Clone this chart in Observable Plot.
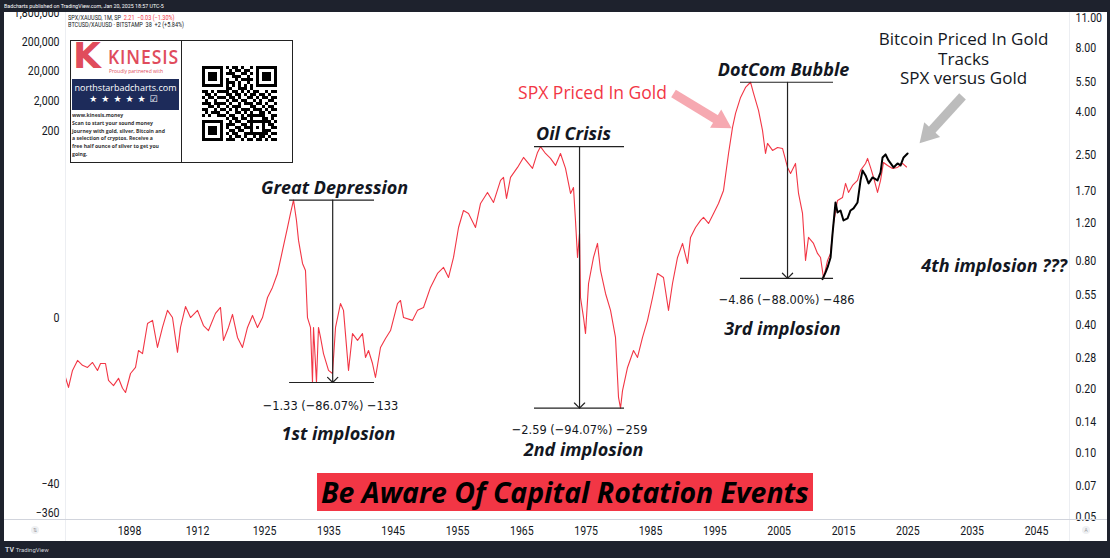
<!DOCTYPE html>
<html><head><meta charset="utf-8">
<script src="https://cdn.jsdelivr.net/npm/d3@7"></script>
<script src="https://cdn.jsdelivr.net/npm/@observablehq/plot@0.6"></script>
<style>
body{margin:0;background:#1e222d;}
#wrap{position:relative;width:1110px;height:558px;overflow:hidden;background:#1e222d;font-family:"Open Sans",sans-serif;}
.abs{position:absolute;}
.sq{display:inline-block;transform:scaleX(0.88);transform-origin:0 50%;white-space:nowrap;}
.kline{white-space:nowrap;}
</style></head><body>
<div id="wrap">
  <div class="abs" style="left:4px;top:0;height:12px;line-height:12px;color:#fff;font-size:6px;font-family:Roboto"><span class="sq">Badcharts published on TradingView.com, Jan 20, 2025 18:57 UTC-5</span></div>
  <div id="chart" class="abs" style="left:4px;top:12px;width:1103px;height:529px;background:#fff"></div>
  <div class="abs" style="left:65px;top:12px;width:1px;height:529px;background:#eceef2"></div>
  <div class="abs" style="left:1069px;top:12px;width:1px;height:529px;background:#eceef2"></div>
  <div class="abs" style="left:4px;top:519px;width:1103px;height:1px;background:#d1d4dc"></div>
  <div class="abs" style="left:31px;top:526px;width:8px;height:8px;border-radius:50%;background:#eef0f3;color:#999;font-size:5px;line-height:8px;text-align:center">⇅</div>
  <div class="abs" style="left:1082px;top:526px;width:8px;height:8px;border-radius:50%;background:#eef0f3;color:#999;font-size:5px;line-height:8px;text-align:center">A</div>

  <div class="abs" style="left:68px;top:15px;font-size:6.3px;line-height:7px;color:#131722;font-family:Roboto">
    <div><span class="sq">SPX/XAUUSD, 1M, SP&nbsp; <span style="color:#f23645">2.21 &nbsp;−0.03 (−1.30%)</span></span></div>
    <div><span class="sq">BTCUSD/XAUUSD · BITSTAMP&nbsp; 38 &nbsp;+2 (+5.84%)</span></div>
  </div>

  <div class="abs" style="left:70px;top:40px;width:223px;height:123px;border:1px solid #222;background:#fff;box-sizing:border-box;">
    <div class="abs" style="left:110px;top:0;width:1px;height:121px;background:#222"></div>
    <div class="abs" style="left:2px;top:-5px;font:bold 36px 'DejaVu Sans';color:#e04c5c;line-height:40px">K</div>
    <div class="abs" style="left:37px;top:6px;font-weight:600;font-size:20px;line-height:20px;letter-spacing:1px;color:#e04c5c"><span class="sq">KINESIS</span></div>
    <div class="abs" style="left:38px;top:27px;font-size:5px;line-height:6px;color:#e04c5c">Proudly partnered with</div>
    <div class="abs" style="left:1px;top:38px;width:107px;height:31px;background:#1d2b5a;color:#fff;text-align:center">
      <div style="font-size:9px;line-height:10px;margin-top:4px;white-space:nowrap">northstarbadcharts.com</div>
      <div style="font-family:'DejaVu Sans';font-size:9px;line-height:12px;letter-spacing:4px;white-space:nowrap">★★★★★☑</div>
    </div>
    <div class="abs" style="left:1px;top:71px;font-weight:700;font-size:5.8px;line-height:7.8px;color:#333">
      <div class="kline"><span class="sq">www.kinesis.money</span></div>
      <div class="kline"><span class="sq">Scan to start your sound money</span></div>
      <div class="kline"><span class="sq">journey with gold, silver, Bitcoin and</span></div>
      <div class="kline"><span class="sq">a selection of cryptos. Receive a</span></div>
      <div class="kline"><span class="sq">free half ounce of silver to get you</span></div>
      <div class="kline"><span class="sq">going.</span></div>
    </div>
    <div id="qr" class="abs" style="left:126px;top:19px;width:84px;height:86px"></div>
  </div>

  <div class="abs" style="left:317px;top:473px;width:496px;height:38px;background:#f23645;overflow:hidden">
    <div style="font-family:'Open Sans';font-weight:700;font-style:italic;font-size:29px;line-height:38px;color:#000;white-space:nowrap;padding-left:4px"><span style="display:inline-block;transform:scaleX(0.98);transform-origin:0 50%">Be Aware Of Capital Rotation Events</span></div>
  </div>

  <div class="abs" style="left:5px;top:545px;font-size:7px;line-height:10px;color:#d1d4dc;font-family:Roboto;white-space:nowrap"><b>TV</b> <span style="font-size:6px">TradingView</span></div>
</div>
<script>
// ---------- tick labels ----------
const xTicks = [1898, 1912, 1925, 1935, 1945, 1955, 1965, 1975, 1985, 1995, 2005, 2015, 2025, 2035, 2045];
const rightTicks = [11, 8, 5.5, 4, 2.5, 1.7, 1.2, 0.8, 0.55, 0.4, 0.28, 0.2, 0.14, 0.1, 0.07, 0.05];
const leftTickValues = [11.6, 8.5, 6.2, 4.49, 3.24, 0.43, 0.0714, 0.0522];
const leftTickLabels = ["1,800,000", "200,000", "20,000", "2,000", "200", "0", "−40", "−360"];

// ---------- series: SPX priced in gold (year, ratio) ----------
const spxGold = [
[1884.0,0.227],[1884.66,0.204],[1885.53,0.245],[1886.63,0.273],[1887.72,0.259],[1888.81,0.253],[1889.91,0.267],[1891.0,0.245],[1891.66,0.264],[1892.75,0.264],[1893.41,0.220],[1894.5,0.208],[1895.6,0.225],[1896.47,0.202],[1897.13,0.193],[1898.21,0.237],
[1899.24,0.253],[1899.85,0.304],[1900.68,0.294],[1901.71,0.407],[1902.74,0.421],[1903.76,0.314],[1904.79,0.390],[1905.82,0.469],[1906.85,0.434],[1907.88,0.298],[1908.5,0.390],[1909.53,0.489],[1910.56,0.434],[1912.0,0.469],
[1913.16,0.398],[1914.13,0.377],[1915.49,0.454],[1916.46,0.484],[1917.04,0.339],[1918.01,0.390],[1918.79,0.449],[1919.76,0.350],[1920.73,0.314],[1921.7,0.390],[1922.67,0.444],[1923.64,0.390],[1924.61,0.434],
[1925.47,0.539],[1926.24,0.601],[1927.02,0.699],[1927.8,0.896],[1928.58,1.149],[1929.04,1.337],[1929.51,1.545],[1929.97,1.240],[1930.29,0.999],[1930.91,0.779],[1931.37,0.722],[1931.68,0.434],[1932.15,0.390],[1932.46,0.215],[1932.62,0.390],[1933.08,0.215],[1933.39,0.390],[1933.71,0.350],[1934.17,0.294],[1934.95,0.245],[1935.57,0.237],[1936.04,0.390],[1936.81,0.505],[1937.28,0.469],[1938.06,0.245],[1938.68,0.365],[1939.46,0.339],[1940.23,0.365],[1940.7,0.282],[1941.17,0.304],[1941.79,0.264],[1942.25,0.227],[1943.03,0.314],[1943.81,0.346],[1944.59,0.377],[1945.67,0.505],
[1946.14,0.522],[1946.61,0.434],[1948.01,0.421],[1948.78,0.469],[1949.72,0.484],[1950.8,0.601],[1951.89,0.699],[1952.83,0.746],[1953.6,0.669],[1954.38,0.831],[1955.16,1.149],[1955.93,1.381],[1956.71,1.337],[1957.8,1.149],[1958.58,1.490],[1959.66,1.678],[1960.6,1.506],[1961.69,1.911],[1962.15,1.974],[1962.62,1.573],[1963.24,1.974],[1964.33,2.199],[1965.26,2.450],[1966.66,2.176],[1967.44,2.586],[1967.9,2.753],[1968.68,2.558],[1969.46,2.424],[1970.24,2.247],[1971.01,2.558],[1971.79,2.176],[1972.57,1.660],[1973.03,1.771],[1973.34,1.240],[1973.66,0.831],[1973.97,1.077],[1974.12,0.539],[1974.59,0.434],[1974.9,0.365],[1975.37,0.627],[1976.14,0.831],[1976.76,0.967],[1977.23,0.722],[1978.01,0.563],[1978.79,0.469],[1979.56,0.350],[1980.03,0.183],[1980.34,0.163],[1980.65,0.197],[1981.43,0.253],[1982.36,0.304],[1982.98,0.282],[1983.76,0.350],[1984.54,0.421],[1985.32,0.539],[1986.09,0.699],[1987.02,0.669],[1987.8,0.469],[1988.42,0.627],[1989.2,0.831],[1989.98,0.967],[1990.75,0.779],[1991.22,1.032],[1992.0,1.149],[1992.78,1.240],
[1993.24,1.281],[1994.02,1.200],[1994.8,1.337],[1995.57,1.490],[1996.35,1.715],[1997.13,2.558],[1997.75,3.389],[1998.22,3.943],[1999.0,4.688],[1999.77,5.223],[2000.55,5.523],[2001.02,4.895],[2001.79,4.073],[2002.41,3.281],[2002.88,2.558],[2003.19,2.851],[2003.97,2.643],[2004.75,2.730],[2005.52,2.700],[2006.3,2.199],[2006.77,2.061],[2007.54,2.296],[2008.01,1.660],[2008.63,1.337],[2009.1,0.805],[2009.56,1.032],[2010.34,0.967],[2010.96,0.868],[2011.43,0.831],[2011.9,0.663],
[2012.52,0.805],[2012.99,0.868],[2013.45,1.200],[2014.07,1.539],[2014.85,1.590],[2015.32,1.850],[2015.78,1.678],[2016.4,1.810],[2017.18,1.911],[2017.65,2.129],[2018.43,2.296],[2018.74,2.424],[2019.2,2.199],[2019.67,1.974],[2020.29,1.678],[2020.76,1.911],[2021.22,2.321],[2021.85,2.247],[2022.62,2.176],[2023.4,2.199],[2024.18,2.296],[2024.8,2.210]
];

// ---------- series: Bitcoin priced in gold (overlay) ----------
const btcGold = [
[2011.74,0.657],[2012.21,0.707],[2012.52,0.746],[2012.99,0.831],[2013.3,1.077],[2013.45,1.200],[2013.76,1.506],[2014.07,1.352],[2014.54,1.381],[2015.0,1.240],[2015.63,1.267],[2016.09,1.381],[2016.56,1.412],[2017.18,1.506],[2017.65,1.911],[2017.96,2.129],[2018.43,2.017],[2018.9,1.850],[2019.52,1.974],[2020.29,1.911],[2020.76,2.083],[2021.07,2.450],[2021.54,2.531],[2022.0,2.372],[2022.78,2.199],[2023.4,2.296],[2023.87,2.247],[2024.34,2.450],[2024.96,2.558]
];

// ---------- annotations ----------
const drawdowns = [
  {start: 1928.9, end: 1942.1, mid: 1935.6, peak: 1.545, trough: 0.215},
  {start: 1966.97, end: 1980.96, mid: 1973.97, peak: 2.753, trough: 0.163},
  {start: 1998.99, end: 2013.45, mid: 2006.3, peak: 5.523, trough: 0.663}
];
const drawdownLabels = [
  {year: 1935.26, value: 0.1678, text: "−1.33 (−86.07%) −133"},
  {year: 1973.97, value: 0.1295, text: "−2.59 (−94.07%) −259"},
  {year: 2006.15, value: 0.528, text: "−4.86 (−88.00%) −486"}
];
const eventTitles = [
  {year: 1935.9, value: 1.753, text: "Great Depression"},
  {year: 1973.03, value: 3.14, text: "Oil Crisis"},
  {year: 2005.68, value: 6.27, text: "DotCom Bubble"}
];
const implosionLabels = [
  {year: 1936.5, value: 0.1227, text: "1st implosion"},
  {year: 1974.6, value: 0.1032, text: "2nd implosion"},
  {year: 2005.5, value: 0.3815, text: "3rd implosion"}
];
const fourthLabel = [{year: 2027.1, value: 0.754, text: "4th implosion ???"}];
const spxNote = [{year: 1975.99, value: 4.89, text: "SPX Priced In Gold"}];
const btcNote = [{year: 2033.66, value: 7.14, text: "Bitcoin Priced In Gold\nTracks\nSPX versus Gold"}];
const redPointer = [{x1: 1988.58, y1: 4.89, x2: 1995.26, y2: 3.69, hx: 1995.95, hy: 3.60, angle: 121.4}];
const grayPointer = [{x1: 2033.5, y1: 4.74, x2: 2028.53, y2: 3.245, hx: 2028.13, hy: 3.15, angle: 222.5}];

// ---------- QR code pattern ----------
const qrRows = [
  "1111111"+"0"+"101101001"+"0"+"1111111",
  "1000001"+"0"+"010110110"+"0"+"1000001",
  "1011101"+"0"+"111001101"+"0"+"1011101",
  "1011101"+"0"+"001110010"+"0"+"1011101",
  "1011101"+"0"+"100101111"+"0"+"1011101",
  "1000001"+"0"+"111010010"+"0"+"1000001",
  "1111111"+"0"+"101010101"+"0"+"1111111",
  "00000000"+"110011101"+"00000000",
  "1101011110110101011001011",
  "0110100011011010110110100",
  "1011011101101001101011011",
  "0100100010110110010100110",
  "1110111101001011101101001",
  "0011010010111000110010110",
  "1100101101010111011101011",
  "0101110010011010100110100",
  "1010011101100101111110011",
  "00000000"+"10110110100011010",
  "1111111"+"0"+"01011001111111101",
  "1000001"+"0"+"11100110100010110",
  "1011101"+"0"+"10011011101010011",
  "1011101"+"0"+"01101100100011100",
  "1011101"+"0"+"10110011111111011",
  "1000001"+"0"+"01011010010110100",
  "1111111"+"0"+"11100101101101011"
];

const leftMap = new Map(leftTickValues.map((v, i) => [v, leftTickLabels[i]]));
const ink = "#131722";
const annFont = "Open Sans";

const chart = Plot.plot({
  width: 1103, height: 529,
  marginLeft: 61, marginRight: 38, marginTop: 0, marginBottom: 22,
  style: {background: "#fff", color: ink, fontFamily: "Roboto", fontSize: "12px", overflow: "hidden"},
  x: {type: "linear", domain: [1884, 1898, 1912, 1925, 2050.13], range: [61, 125, 193, 260, 1065], label: null},
  y: {type: "log", domain: [0.0489, 11.74], label: null, axis: null},
  marks: [
    Plot.axisX({ticks: xTicks, tickFormat: d => String(d), tickSize: 0, tickPadding: 7, label: null, fontSize: 12, fontFamily: "Roboto"}),
    Plot.text(rightTicks, {y: d => d, text: d => d.toFixed(2), frameAnchor: "right", textAnchor: "start", dx: 6, fontSize: 12, fontFamily: "Roboto", fill: ink}),
    Plot.text(leftTickValues, {y: d => d, text: d => leftMap.get(d), frameAnchor: "left", textAnchor: "end", dx: -6, fontSize: 12, fontFamily: "Roboto", fill: ink}),
    Plot.line(spxGold, {x: d => d[0], y: d => d[1], stroke: "#f23645", strokeWidth: 1.1}),
    Plot.line(btcGold, {x: d => d[0], y: d => d[1], stroke: "#000", strokeWidth: 2}),
    Plot.ruleY(drawdowns, {y: "peak", x1: "start", x2: "end", stroke: "#222", strokeWidth: 1.2}),
    Plot.ruleY(drawdowns, {y: "trough", x1: "start", x2: "end", stroke: "#222", strokeWidth: 1.2}),
    Plot.arrow(drawdowns, {x: "mid", y1: "peak", y2: "trough", stroke: "#222", strokeWidth: 1.2, headAngle: 90, headLength: 9}),
    Plot.text(eventTitles, {x: "year", y: "value", text: "text", fontFamily: annFont, fontSize: 18, fontWeight: "bold", fontStyle: "italic", fill: ink}),
    Plot.text(implosionLabels, {x: "year", y: "value", text: "text", fontFamily: annFont, fontSize: 18, fontWeight: "bold", fontStyle: "italic", fill: ink}),
    Plot.text(fourthLabel, {x: "year", y: "value", text: "text", textAnchor: "start", fontFamily: annFont, fontSize: 18, fontWeight: "bold", fontStyle: "italic", fill: ink}),
    Plot.text(drawdownLabels, {x: "year", y: "value", text: "text", fontFamily: "DejaVu Sans", fontSize: 13, fill: ink}),
    Plot.text(spxNote, {x: "year", y: "value", text: "text", fontFamily: annFont, fontSize: 17.5, fill: "#f23645"}),
    Plot.text(btcNote, {x: "year", y: "value", text: "text", fontFamily: annFont, fontSize: 17, lineHeight: 1.13, fill: ink}),
    Plot.link(redPointer, {x1: "x1", y1: "y1", x2: "x2", y2: "y2", stroke: "#f6a9b1", strokeWidth: 9}),
    Plot.dot(redPointer, {x: "hx", y: "hy", symbol: "triangle", r: 8, rotate: "angle", fill: "#f6a9b1", stroke: "none"}),
    Plot.link(grayPointer, {x1: "x1", y1: "y1", x2: "x2", y2: "y2", stroke: "#bcbcbc", strokeWidth: 9}),
    Plot.dot(grayPointer, {x: "hx", y: "hy", symbol: "triangle", r: 8, rotate: "angle", fill: "#bcbcbc", stroke: "none"})
  ]
});
// TradingView renders these narrow: squash the axis and number labels horizontally
chart.querySelectorAll("text").forEach(t => {
  const tr = t.getAttribute("transform");
  const g = t.closest("g[font-family]");
  const fam = g ? g.getAttribute("font-family") : "";
  if (fam === annFont) return;
  if (tr && tr.startsWith("translate")) t.setAttribute("transform", tr + " scale(0.88,1)");
});
document.getElementById("chart").appendChild(chart);

// QR code drawn as cells
const qrCells = [];
qrRows.forEach((row, r) => row.split("").forEach((ch, c) => { if (ch === "1") qrCells.push({r, c}); }));
const qr = Plot.plot({
  width: 84, height: 86, margin: 0,
  x: {type: "band", domain: d3.range(25), padding: 0, axis: null},
  y: {type: "band", domain: d3.range(25), padding: 0, axis: null},
  style: {background: "#fff"},
  marks: [Plot.cell(qrCells, {x: "c", y: "r", fill: "#000", inset: 0})]
});
document.getElementById("qr").appendChild(qr);
</script>
</body></html>
